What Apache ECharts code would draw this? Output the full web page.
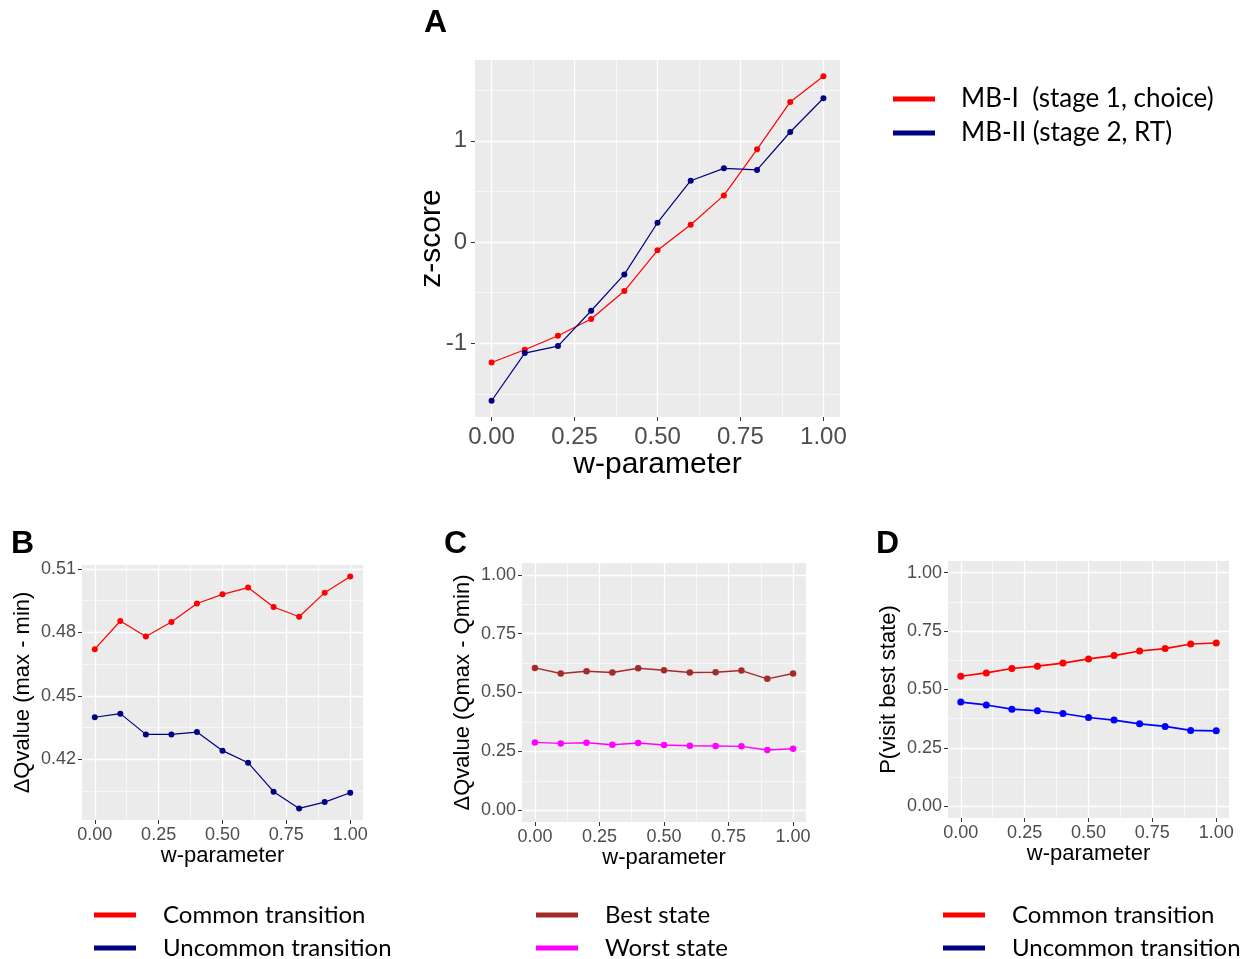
<!DOCTYPE html>
<html>
<head>
<meta charset="utf-8">
<script src="https://cdn.jsdelivr.net/npm/echarts@6/dist/echarts.min.js"></script>
<style>
html,body{margin:0;padding:0;background:#fff;}
#chart{width:1256px;height:959px;}
</style>
</head>
<body>
<div id="chart"></div>
<script>
// ---------- data ----------
const wParam = [0.0, 0.1, 0.2, 0.3, 0.4, 0.5, 0.6, 0.7, 0.8, 0.9, 1.0];
const xTicks = [0, 0.25, 0.5, 0.75, 1];
const xMinor = [0.125, 0.375, 0.625, 0.875];

// Panel A: z-score
const aMB1 = [-1.19, -1.064, -0.926, -0.761, -0.484, -0.082, 0.171, 0.461, 0.916, 1.384, 1.638];
const aMB2 = [-1.568, -1.097, -1.028, -0.679, -0.320, 0.191, 0.606, 0.728, 0.712, 1.087, 1.420];
const aYTicks = [-1, 0, 1];
const aYMinor = [-1.5, -0.5, 0.5, 1.5];

// Panel B: dQvalue (max - min)
const bCommon = [0.4721, 0.4854, 0.4781, 0.4849, 0.4937, 0.4980, 0.5012, 0.4920, 0.4874, 0.4988, 0.5064];
const bUncommon = [0.4399, 0.4416, 0.4318, 0.4318, 0.4329, 0.4241, 0.4184, 0.4047, 0.3968, 0.3998, 0.4042];
const bYTicks = [0.42, 0.45, 0.48, 0.51];
const bYMinor = [0.405, 0.435, 0.465, 0.495];

// Panel C: dQvalue (Qmax - Qmin)
const cBest = [0.6045, 0.5805, 0.5904, 0.5847, 0.6031, 0.5946, 0.5847, 0.5862, 0.5932, 0.5579, 0.5805];
const cWorst = [0.2881, 0.2839, 0.2867, 0.2782, 0.2853, 0.2768, 0.2740, 0.2726, 0.2712, 0.2556, 0.2613];

// Panel D: P(visit best state)
const dCommon = [0.557, 0.571, 0.590, 0.600, 0.613, 0.631, 0.645, 0.665, 0.675, 0.695, 0.699];
const dUncommon = [0.446, 0.434, 0.416, 0.409, 0.397, 0.380, 0.369, 0.353, 0.342, 0.325, 0.323];
const unitTicks = [0, 0.25, 0.5, 0.75, 1];
const unitMinor = [0.125, 0.375, 0.625, 0.875];

// ---------- helpers ----------
const pairs = arr => wParam.map((w, i) => [w, arr[i]]);
function expand(arrs) {
  let lo = Infinity, hi = -Infinity;
  arrs.forEach(a => a.forEach(v => { lo = Math.min(lo, v); hi = Math.max(hi, v); }));
  const pad = (hi - lo) * 0.05;
  return [lo - pad, hi + pad];
}
const SANS = 'Liberation Sans, Arial, sans-serif';
const LEG = 'Lato, Liberation Sans, sans-serif';

function mainX(grid, name, fs, tfs, gap, margin) {
  return {
    type: 'value', gridIndex: grid, min: -0.05, max: 1.05, position: 'bottom',
    name: name, nameLocation: 'middle', nameGap: gap,
    nameTextStyle: {fontFamily: SANS, fontSize: tfs, color: '#000'},
    axisLine: {show: false, onZero: false},
    axisTick: {show: true, length: 4, customValues: xTicks, lineStyle: {color: '#333', width: 1}},
    axisLabel: {customValues: xTicks, formatter: v => v.toFixed(2), fontFamily: SANS, fontSize: fs, color: '#4D4D4D', margin: margin},
    splitLine: {show: true, lineStyle: {color: '#fff', width: 1.3}}
  };
}
function minorX(grid) {
  return {
    type: 'value', gridIndex: grid, min: -0.05, max: 1.05, position: 'top',
    axisLine: {show: false, onZero: false}, axisLabel: {show: false},
    axisTick: {show: false, customValues: xMinor},
    splitLine: {show: true, lineStyle: {color: '#fff', width: 0.6}}
  };
}
function mainY(grid, range, ticks, fmt, name, fs, tfs, gap, margin, noMove) {
  const ax = {
    type: 'value', gridIndex: grid, min: range[0], max: range[1], position: 'left',
    name: name, nameLocation: 'middle', nameGap: gap,
    nameTextStyle: {fontFamily: SANS, fontSize: tfs, color: '#000'},
    axisLine: {show: false, onZero: false},
    axisTick: {show: true, length: 4, customValues: ticks, lineStyle: {color: '#333', width: 1}},
    axisLabel: {customValues: ticks, formatter: fmt, fontFamily: SANS, fontSize: fs, color: '#4D4D4D', margin: margin},
    splitLine: {show: true, lineStyle: {color: '#fff', width: 1.3}}
  };
  if (noMove) ax.nameMoveOverlap = false;
  return ax;
}
function minorY(grid, range, minor) {
  return {
    type: 'value', gridIndex: grid, min: range[0], max: range[1], position: 'right',
    axisLine: {show: false, onZero: false}, axisLabel: {show: false},
    axisTick: {show: false, customValues: minor},
    splitLine: {show: true, lineStyle: {color: '#fff', width: 0.6}}
  };
}
function lineSeries(name, data, color, xi, yi, lw, ss) {
  return {
    type: 'line', name: name, data: pairs(data), xAxisIndex: xi, yAxisIndex: yi,
    symbol: 'circle', symbolSize: ss, showSymbol: true,
    lineStyle: {color: color, width: lw}, itemStyle: {color: color},
    emphasis: {disabled: true}, animation: false, z: 3
  };
}
function legendBox(left, top, items, fs, pad, lh, gap) {
  return {
    orient: 'vertical', left: left, top: top, icon: 'rect', padding: 0, height: 120,
    itemWidth: 42, itemHeight: 5, itemGap: gap, selectedMode: false,
    textStyle: {fontFamily: LEG, fontSize: fs, color: '#000', lineHeight: lh, padding: [0, 0, 0, pad]},
    data: items.map(it => ({name: it[0], itemStyle: {color: it[1]}}))
  };
}

const aRange = expand([aMB1, aMB2]);
const bRange = expand([bCommon, bUncommon]);
const unitRange = [-0.05, 1.05];

const chart = echarts.init(document.getElementById('chart'), null, {renderer: 'canvas'});
chart.setOption({
  animation: false,
  backgroundColor: '#fff',
  grid: [
    {left: 475, top: 60, width: 365, height: 357, show: true, backgroundColor: '#EBEBEB', borderWidth: 0},
    {left: 82, top: 565, width: 281, height: 255, show: true, backgroundColor: '#EBEBEB', borderWidth: 0},
    {left: 522, top: 563, width: 284, height: 259, show: true, backgroundColor: '#EBEBEB', borderWidth: 0},
    {left: 948, top: 561, width: 281, height: 257, show: true, backgroundColor: '#EBEBEB', borderWidth: 0}
  ],
  xAxis: [
    mainX(0, 'w-parameter', 24, 30, 30, 8), minorX(0),
    mainX(1, 'w-parameter', 18, 22, 22, 6), minorX(1),
    mainX(2, 'w-parameter', 18, 22, 22, 6), minorX(2),
    mainX(3, 'w-parameter', 18, 22, 22, 6), minorX(3)
  ],
  yAxis: [
    mainY(0, aRange, aYTicks, v => String(Math.round(v)), 'z-score', 24, 30, 28, 8, true), minorY(0, aRange, aYMinor),
    mainY(1, bRange, bYTicks, v => v.toFixed(2), 'ΔQvalue (max - min)', 18, 22, 48, 6), minorY(1, bRange, bYMinor),
    mainY(2, unitRange, unitTicks, v => v.toFixed(2), 'ΔQvalue (Qmax - Qmin)', 18, 22, 48, 6), minorY(2, unitRange, unitMinor),
    mainY(3, unitRange, unitTicks, v => v.toFixed(2), 'P(visit best state)', 18, 22, 48, 6), minorY(3, unitRange, unitMinor)
  ],
  legend: [
    legendBox(893, 86, [['MB-I  (stage 1, choice)', '#FF0000'], ['MB-II (stage 2, RT)', '#000080']], 26, 21, 26, 8),
    legendBox(94, 903, [['Common transition', '#FF0000'], ['Uncommon transition', '#000080']], 24, 22, 22, 9),
    legendBox(536, 903, [['Best state', '#A52A2A'], ['Worst state', '#FF00FF']], 24, 22, 22, 9),
    legendBox(943, 903, [['Common transition', '#FF0000'], ['Uncommon transition', '#000080']], 24, 22, 22, 9)
  ],
  graphic: [
    {type: 'text', left: 424, top: 7, style: {text: 'A', font: 'bold 32px Liberation Sans, Arial, sans-serif', fill: '#000'}},
    {type: 'text', left: 11, top: 528, style: {text: 'B', font: 'bold 32px Liberation Sans, Arial, sans-serif', fill: '#000'}},
    {type: 'text', left: 444, top: 528, style: {text: 'C', font: 'bold 32px Liberation Sans, Arial, sans-serif', fill: '#000'}},
    {type: 'text', left: 876, top: 528, style: {text: 'D', font: 'bold 32px Liberation Sans, Arial, sans-serif', fill: '#000'}}
  ],
  series: [
    lineSeries('MB-I  (stage 1, choice)', aMB1, '#FF0000', 0, 0, 1.2, 6),
    lineSeries('MB-II (stage 2, RT)', aMB2, '#000080', 0, 0, 1.2, 6),
    lineSeries('Common transition', bCommon, '#FF0000', 2, 2, 1.2, 6),
    lineSeries('Uncommon transition', bUncommon, '#000080', 2, 2, 1.2, 6),
    lineSeries('Best state', cBest, '#A52A2A', 4, 4, 1.4, 6.5),
    lineSeries('Worst state', cWorst, '#FF00FF', 4, 4, 1.4, 6.5),
    lineSeries('Common transition', dCommon, '#FF0000', 6, 6, 1.6, 7),
    lineSeries('Uncommon transition', dUncommon, '#0000FF', 6, 6, 1.6, 7)
  ]
});
</script>
</body>
</html>
